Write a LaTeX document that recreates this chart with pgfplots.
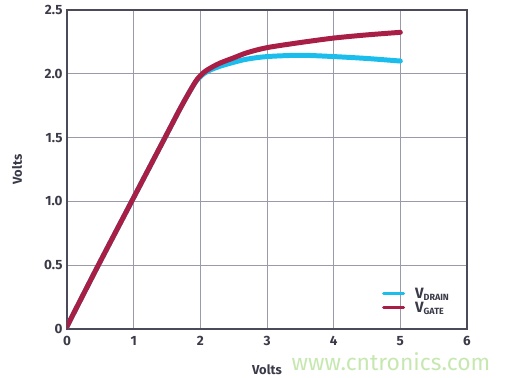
\documentclass[border=0pt]{standalone}
\usepackage{pgfplots}
\pgfplotsset{compat=1.18}
\usepackage{fontspec}
\setmainfont{Fira Sans}
\definecolor{drain}{HTML}{1ABDEB}
\definecolor{gate}{HTML}{A81E45}
\definecolor{txt}{HTML}{3A3A48}
\definecolor{frame}{HTML}{4A4A58}
\definecolor{gridc}{HTML}{9A9AAA}
\definecolor{wm}{HTML}{C6E8B0}
\begin{document}
\begin{tikzpicture}
\useasboundingbox (-67bp,-49bp) rectangle (440bp,329bp);
\begin{axis}[
  at={(0,0)}, anchor=south west,
  scale only axis, width=400bp, height=319bp,
  xmin=0, xmax=6, ymin=0, ymax=2.5,
  xtick={0,1,2,3,4,5,6}, ytick={0,0.5,1,1.5,2,2.5},
  yticklabels={0,0.5,1.0,1.5,2.0,2.5},
  grid=major,
  major grid style={gridc, line width=1pt},
  axis line style={frame, line width=1.8pt},
  tick style={draw=none},
  ticklabel style={font=\fontsize{13.5}{15}\selectfont\bfseries, text=txt},
  xticklabel style={yshift=-4bp},
  yticklabel style={xshift=-1bp},
  /pgf/number format/assume math mode=true,
  xlabel={\bfseries Volts}, ylabel={\bfseries Volts},
  label style={font=\fontsize{13}{15}\selectfont\bfseries, text=txt},
  xlabel style={at={(axis description cs:0.5,0)}, anchor=center, yshift=-41bp},
  ylabel style={at={(axis description cs:-0.125,0.5)}, anchor=center},
  legend style={draw=none, fill=none, at={(rel axis cs:0.78,0.035)}, anchor=south west, font=\fontsize{15}{17}\selectfont\bfseries, text=txt, row sep=-2pt, column sep=8bp},
  legend cell align=left,
  legend image code/.code={\draw[#1, line width=3pt] (0bp,0bp) -- (20bp,0bp);},
]
\addplot[drain, line width=5pt, line cap=round, smooth] coordinates {
(0,0.02) (0.45,0.48) (1,1.03) (1.5,1.53) (1.7,1.73) (1.85,1.87) (1.95,1.95) (2.05,2.0) (2.15,2.03) (2.3,2.06) (2.5,2.09) (2.7,2.115) (3,2.135) (3.5,2.145) (4,2.135) (4.5,2.12) (5,2.1)
};
\addlegendentry{V\textsubscript{\fontsize{9}{10}\selectfont DRAIN}}
\addplot[gate, line width=5pt, line cap=round, smooth] coordinates {
(0,0.02) (0.45,0.48) (1,1.03) (1.5,1.53) (1.7,1.73) (1.85,1.87) (1.95,1.955) (2.05,2.01) (2.15,2.045) (2.3,2.085) (2.5,2.125) (2.7,2.165) (3,2.205) (3.5,2.245) (4,2.28) (4.5,2.305) (5,2.325)
};
\addlegendentry{V\textsubscript{\fontsize{9}{10}\selectfont GATE}}
\end{axis}
\node[anchor=center, text=wm, font=\fontsize{23}{26}\selectfont] at (324bp,-33bp) {www.cntronics.com};
\end{tikzpicture}
\end{document}
